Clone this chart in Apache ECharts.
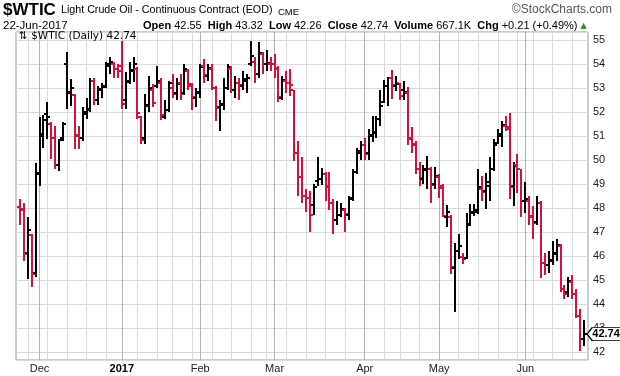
<!DOCTYPE html>
<html><head><meta charset="utf-8">
<script src="https://cdn.jsdelivr.net/npm/echarts@6/dist/echarts.min.js"></script>
<style>html,body{margin:0;padding:0;background:#fff}#c{width:620px;height:376px}</style>
</head><body><div id="c"></div>
<script>
const dates = [
'2016-11-23','2016-11-25','2016-11-28','2016-11-29','2016-11-30',
'2016-12-01','2016-12-02','2016-12-05','2016-12-06','2016-12-07','2016-12-08','2016-12-09','2016-12-12','2016-12-13','2016-12-14','2016-12-15','2016-12-16','2016-12-19','2016-12-20','2016-12-21','2016-12-22','2016-12-23','2016-12-27','2016-12-28','2016-12-29','2016-12-30',
'2017-01-03','2017-01-04','2017-01-05','2017-01-06','2017-01-09','2017-01-10','2017-01-11','2017-01-12','2017-01-13','2017-01-17','2017-01-18','2017-01-19','2017-01-20','2017-01-23','2017-01-24','2017-01-25','2017-01-26','2017-01-27','2017-01-30','2017-01-31',
'2017-02-01','2017-02-02','2017-02-03','2017-02-06','2017-02-07','2017-02-08','2017-02-09','2017-02-10','2017-02-13','2017-02-14','2017-02-15','2017-02-16','2017-02-17','2017-02-21','2017-02-22','2017-02-23','2017-02-24','2017-02-27','2017-02-28',
'2017-03-01','2017-03-02','2017-03-03','2017-03-06','2017-03-07','2017-03-08','2017-03-09','2017-03-10','2017-03-13','2017-03-14','2017-03-15','2017-03-16','2017-03-17','2017-03-20','2017-03-21','2017-03-22','2017-03-23','2017-03-24','2017-03-27','2017-03-28','2017-03-29','2017-03-30','2017-03-31',
'2017-04-03','2017-04-04','2017-04-05','2017-04-06','2017-04-07','2017-04-10','2017-04-11','2017-04-12','2017-04-13','2017-04-17','2017-04-18','2017-04-19','2017-04-20','2017-04-21','2017-04-24','2017-04-25','2017-04-26','2017-04-27','2017-04-28',
'2017-05-01','2017-05-02','2017-05-03','2017-05-04','2017-05-05','2017-05-08','2017-05-09','2017-05-10','2017-05-11','2017-05-12','2017-05-15','2017-05-16','2017-05-17','2017-05-18','2017-05-19','2017-05-22','2017-05-23','2017-05-24','2017-05-25','2017-05-26','2017-05-30','2017-05-31',
'2017-06-01','2017-06-02','2017-06-05','2017-06-06','2017-06-07','2017-06-08','2017-06-09','2017-06-12','2017-06-13','2017-06-14','2017-06-15','2017-06-16','2017-06-19','2017-06-20','2017-06-21','2017-06-22'
];
const opens = [
48.05,47.9,46.1,46.85,45.3,
49.4,51.0,51.9,51.5,50.9,49.8,50.9,54.0,52.8,52.7,51.0,50.9,52.0,52.1,53.3,52.5,52.9,53.1,54.0,54.0,53.8,
53.9,52.5,53.3,53.7,53.8,51.8,50.9,52.3,52.9,53.1,53.2,51.8,52.1,53.0,52.8,53.2,52.8,53.7,53.1,52.6,
52.8,53.9,53.5,53.8,53.0,52.2,52.3,53.0,53.8,52.9,53.2,53.1,53.3,54.0,54.1,53.6,54.4,54.0,54.0,
54.0,53.8,52.6,53.3,53.2,52.9,50.3,49.3,48.5,48.4,48.1,49.1,49.2,49.4,48.9,48.2,47.5,47.7,47.9,47.7,48.4,49.5,50.3,
50.6,50.3,51.0,51.1,51.7,52.4,53.1,53.4,53.1,53.2,52.9,52.8,50.9,50.6,49.6,49.2,49.6,49.6,49.0,
49.3,48.9,47.6,47.6,45.5,46.2,45.95,45.9,47.3,47.8,47.9,48.8,48.7,48.9,49.6,50.7,51.0,51.4,51.3,48.9,49.8,49.6,
48.3,48.3,47.6,47.4,48.2,45.7,45.6,45.8,46.1,46.4,44.6,44.5,44.9,44.4,43.5,42.55
];
const highs = [
48.36,48.19,47.6,46.9,49.86,
51.77,51.85,52.40,51.56,51.42,50.87,51.56,54.49,53.37,52.75,51.42,52.2,52.6,53.4,53.4,53.1,53.2,54.1,54.3,54.1,54.0,
54.97,53.65,54.07,54.3,53.86,51.84,52.75,53.51,53.16,53.9,53.4,52.5,53.3,53.6,53.4,53.6,54.0,53.8,53.2,53.0,
54.0,54.2,54.0,54.0,53.1,52.5,53.4,54.0,53.9,53.5,53.4,53.7,53.6,54.95,54.3,54.9,54.5,54.6,54.3,
54.4,53.9,53.5,53.7,53.79,52.91,50.8,50.1,48.78,48.71,48.99,50.1,49.66,49.5,49.48,48.36,48.3,48.2,48.0,48.5,49.6,50.5,50.8,
50.9,51.3,51.81,51.81,52.93,53.31,53.44,53.76,53.48,53.2,53.3,53.03,51.35,50.8,49.9,49.8,50.17,49.7,49.7,
49.4,49.0,48.1,47.69,46.55,46.9,46.1,47.8,48.15,48.15,49.61,49.31,49.45,50.1,50.87,51.28,51.63,51.81,51.95,49.92,50.24,49.61,
49.06,48.5,48.08,48.5,48.3,46.1,46.2,46.6,46.7,46.5,44.8,45.1,45.2,44.6,43.8,43.32
];
const lows = [
47.28,45.79,45.05,44.72,45.13,
48.92,50.5,50.87,50.03,49.64,49.54,50.8,52.12,52.26,50.45,50.45,50.8,51.7,52.0,52.3,52.3,52.6,53.0,53.6,53.4,53.4,
52.12,52.12,53.16,53.23,51.70,50.66,50.66,52.0,52.19,53.0,51.66,51.7,52.0,52.6,52.5,52.5,52.7,52.9,52.1,52.2,
52.6,53.2,53.3,52.9,51.6,51.2,52.1,52.9,52.8,52.6,52.5,52.9,52.8,53.93,53.2,53.4,53.6,53.7,53.7,
53.4,52.4,52.5,52.8,52.67,49.96,48.5,48.22,47.83,46.99,47.7,48.9,48.96,48.3,47.9,46.9,47.3,47.6,47.0,47.5,48.3,49.4,50.0,
50.0,50.0,50.73,50.9,51.42,52.39,52.26,52.54,52.86,52.5,52.5,50.6,50.3,49.4,48.9,49.0,48.78,48.2,48.8,
48.4,47.6,47.2,45.23,43.66,45.86,45.65,45.85,47.25,47.67,47.74,48.29,47.97,48.29,49.54,50.66,50.52,51.21,48.36,48.08,48.64,47.6,
47.8,47.3,46.69,47.3,45.06,45.2,45.3,45.6,45.8,44.5,44.2,44.3,44.2,43.4,42.05,42.26
];
const closes = [
47.96,46.06,47.08,45.23,49.44,
51.06,51.68,51.79,50.93,49.77,50.84,51.50,52.83,52.98,51.04,50.90,51.90,52.12,53.30,52.49,52.95,53.02,53.90,54.06,53.77,53.72,
52.33,53.26,53.76,53.99,51.96,50.82,52.25,53.01,52.37,53.27,51.87,52.09,53.2,52.75,53.18,52.75,53.78,53.17,52.63,52.81,
53.88,53.54,53.83,53.01,52.17,52.34,53.00,53.86,52.93,53.20,53.11,53.36,53.40,54.33,53.59,54.45,53.99,54.05,54.01,
53.83,52.61,53.33,53.20,53.14,50.28,49.28,48.49,48.40,47.72,48.86,49.2,49.43,48.88,48.22,47.5,47.70,47.97,47.73,48.37,49.51,50.35,50.60,
50.24,51.03,51.15,51.70,52.24,53.08,53.40,53.11,53.18,52.65,52.84,50.87,50.66,49.62,49.23,49.56,49.62,48.97,49.33,
48.84,47.66,47.82,45.52,46.22,46.43,45.88,47.33,47.83,47.84,48.85,48.66,49.07,49.61,50.63,51.08,51.47,51.36,48.88,49.73,49.61,48.29,
48.36,47.66,47.35,48.19,45.72,45.64,45.83,46.08,46.46,44.63,44.42,44.95,44.40,43.50,42.53,42.74
];
const closeBeforeStart = 48.03;
const lastVolume = '667.1K';
const monthTickDates = ['2016-12-01','2017-01-03','2017-02-01','2017-03-01','2017-04-03','2017-05-01','2017-06-01'];
const monthTickLabels = ['Dec','2017','Feb','Mar','Apr','May','Jun'];
const priceMin = 41.66, priceMax = 55.33;

const UP = '#000000', DOWN = '#d4103c';
const cats = [''].concat(dates, ['']);
const monthIdx = new Map();
monthTickDates.forEach((d, k) => monthIdx.set(dates.indexOf(d) + 1, monthTickLabels[k]));
const weekIdx = new Set();
for (let i = 1; i < dates.length; i++) {
  const a = new Date(dates[i - 1] + 'T00:00:00Z'), b = new Date(dates[i] + 'T00:00:00Z');
  if (b.getUTCDay() <= a.getUTCDay() || (b - a) >= 7 * 864e5) weekIdx.add(i + 1);
}
const data = dates.map((d, i) => {
  const prev = i === 0 ? closeBeforeStart : closes[i - 1];
  return [i + 1, opens[i], highs[i], lows[i], closes[i], closes[i] >= prev ? 1 : 0];
});
const n = closes.length;
const last = { o: opens[n-1], h: highs[n-1], l: lows[n-1], c: closes[n-1] };
const chg = last.c - closes[n-2];
const pct = chg / closes[n-2] * 100;
const sgn = v => (v >= 0 ? '+' : '') + v.toFixed(2);

function renderItem(params, api) {
  const xi = api.value(0);
  const pH = api.coord([xi, api.value(2)]);
  const pL = api.coord([xi, api.value(3)]);
  const pO = api.coord([xi, api.value(1)]);
  const pC = api.coord([xi, api.value(4)]);
  const color = api.value(5) ? UP : DOWN;
  const x = Math.round(pH[0]);
  const yH = Math.round(pH[1]), yL = Math.round(pL[1]);
  return {
    type: 'group',
    children: [
      { type: 'rect', shape: { x: x - 1, y: yH, width: 2, height: Math.max(1, yL - yH) }, style: { fill: color } },
      { type: 'rect', shape: { x: x - 3, y: Math.round(pO[1]) - 1, width: 2, height: 2 }, style: { fill: color } },
      { type: 'rect', shape: { x: x + 1, y: Math.round(pC[1]) - 1, width: 2, height: 2 }, style: { fill: color } }
    ]
  };
}

const FONT = '"Liberation Sans", Arial, sans-serif';
const chart = echarts.init(document.getElementById('c'), null, { renderer: 'canvas' });
chart.setOption({
  animation: false,
  backgroundColor: '#fff',
  grid: { left: 16, right: 32, top: 32, bottom: 16, show: true, borderColor: '#9a9a9a', borderWidth: 1, backgroundColor: '#fff' },
  xAxis: [
    {
      type: 'category', data: cats, boundaryGap: false,
      axisLine: { show: false }, axisTick: { show: false },
      axisLabel: {
        interval: (idx) => monthIdx.has(idx),
        formatter: (v, idx) => {
          const lab = monthIdx.get(idx);
          return /^\d+$/.test(lab) ? '{b|' + lab + '}' : lab;
        },
        color: '#222', fontSize: 11, fontFamily: FONT, margin: 3,
        rich: { b: { fontWeight: 'bold', fontSize: 11, fontFamily: FONT, color: '#000' } }
      },
      splitLine: { show: true, interval: (idx) => monthIdx.has(idx), lineStyle: { color: '#b4b4b4', width: 1 } }
    },
    {
      type: 'category', data: cats, boundaryGap: false, gridIndex: 0,
      axisLine: { show: false }, axisTick: { show: false }, axisLabel: { show: false },
      splitLine: { show: true, interval: (idx) => weekIdx.has(idx) && !monthIdx.has(idx), lineStyle: { color: '#dadada', width: 1 } }
    }
  ],
  yAxis: {
    type: 'value', position: 'right', min: priceMin, max: priceMax,
    splitNumber: 14, minInterval: 1, maxInterval: 1,
    axisLine: { show: false }, axisTick: { show: false },
    axisLabel: { showMinLabel: false, showMaxLabel: false, color: '#222', fontSize: 11, fontFamily: FONT, margin: 5 },
    splitLine: { show: true, lineStyle: { color: '#dadada', width: 1 } }
  },
  series: [{
    type: 'custom', renderItem: renderItem, data: data,
    encode: { x: 0, y: [1, 2, 3, 4] }, clip: false,
    markPoint: {
      symbol: 'path://M0,6L6,0L40,0L40,12L6,12Z', symbolSize: [34, 13], symbolKeepAspect: false,
      symbolOffset: [20, 0],
      itemStyle: { color: '#fff', borderColor: '#000', borderWidth: 1 },
      label: { show: true, position: 'inside', formatter: last.c.toFixed(2), color: '#000', fontWeight: 'bold', fontSize: 11, fontFamily: FONT, offset: [2, 0] },
      data: [{ coord: [n, last.c], value: last.c }]
    }
  }],
  graphic: [
    { type: 'text', left: 3, top: 2, style: { text: '$WTIC', font: 'bold 17px ' + FONT, fill: '#000' } },
    { type: 'text', left: 61, top: 5, style: { text: 'Light Crude Oil - Continuous Contract (EOD)', font: '10.7px ' + FONT, fill: '#000' } },
    { type: 'text', left: 278, top: 7, style: { text: 'CME', font: '9.5px ' + FONT, fill: '#000' } },
    { type: 'text', right: 8, top: 4, style: { text: '\u00a9StockCharts.com', font: '12px ' + FONT, fill: '#555' } },
    { type: 'text', left: 3, top: 20, style: { text: '22-Jun-2017', font: '11.5px ' + FONT, fill: '#000' } },
    { type: 'text', left: 143, top: 20, style: {
      text: '{b|Open} ' + last.o.toFixed(2) + '  {b|High} ' + last.h.toFixed(2) + '  {b|Low} ' + last.l.toFixed(2) +
            '  {b|Close} ' + last.c.toFixed(2) + '  {b|Volume} ' + lastVolume + '  {b|Chg} ' + sgn(chg) + ' (' + sgn(pct) + '%) {g|\u25b2}',
      fontSize: 11, fontFamily: FONT, fill: '#000',
      rich: { b: { fontWeight: 'bold', fontSize: 11, fontFamily: FONT, fill: '#000' }, g: { fontSize: 8, fill: '#1a9a1a', fontFamily: 'DejaVu Sans' } }
    } },
    { type: 'text', left: 19, top: 31, z: 100, style: { text: '\u21c5 $WTIC (Daily) ' + last.c.toFixed(2), font: '10.5px "DejaVu Sans", sans-serif', fill: '#000' } }
  ]
});
</script></body></html>
